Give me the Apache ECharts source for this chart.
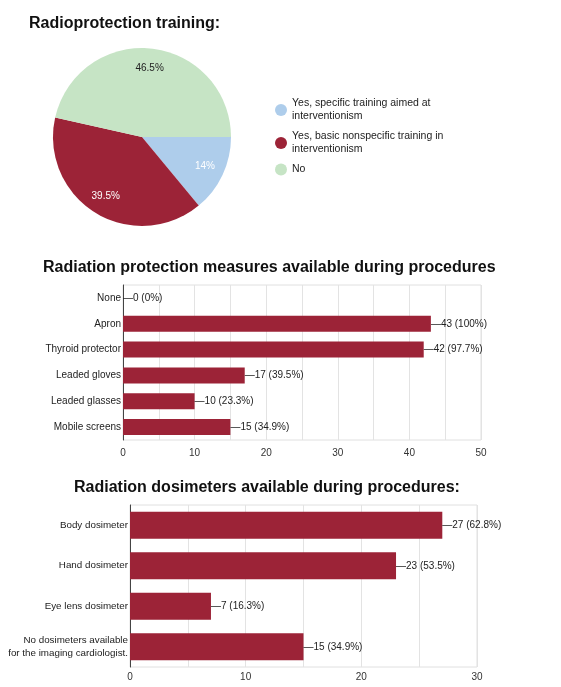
<!DOCTYPE html>
<html><head><meta charset="utf-8">
<script src="https://cdn.jsdelivr.net/npm/echarts@6/dist/echarts.min.js"></script>
<style>html,body{margin:0;padding:0;background:#fff}#c{width:561px;height:687px}</style>
</head><body><div id="c"></div>
<script>
const pieNames = ["Yes, specific training aimed at interventionism", "Yes, basic nonspecific training in interventionism", "No"];
const pieLegendText = ["Yes, specific training aimed at\ninterventionism", "Yes, basic nonspecific training in\ninterventionism", "No"];
const pieValues = [14, 39.5, 46.5];
const pieColors = ["#aecdeb", "#9c2337", "#c6e4c5"];
const pieLabelColors = ["#fff", "#fff", "#222"];

const measCats = ["None", "Apron", "Thyroid protector", "Leaded gloves", "Leaded glasses", "Mobile screens"];
const measVals = [0, 43, 42, 17, 10, 15];
const measPct = ["0%", "100%", "97.7%", "39.5%", "23.3%", "34.9%"];

const dosiCats = ["Body dosimeter", "Hand dosimeter", "Eye lens dosimeter", "No dosimeters available\nfor the imaging cardiologist."];
const dosiVals = [27, 23, 7, 15];
const dosiPct = ["62.8%", "53.5%", "16.3%", "34.9%"];

const FONT = "Liberation Sans, Arial, sans-serif";
const BAR = "#9c2337";

const chart = echarts.init(document.getElementById('c'));
function valAxis(gi, max, margin) {
  return {
    type: 'value', gridIndex: gi, min: 0, max: max, interval: 10,
    axisLine: { show: false }, axisTick: { show: false },
    axisLabel: { color: '#333', fontSize: 10, fontFamily: FONT, margin: margin },
    splitLine: { lineStyle: { color: '#e3e3e3' } },
    minorTick: { show: false, splitNumber: 2 },
    minorSplitLine: { show: true, lineStyle: { color: '#e3e3e3' } }
  };
}
function catAxis(gi, cats, fs) {
  return {
    type: 'category', gridIndex: gi, data: cats, inverse: true,
    axisLine: { lineStyle: { color: '#444', width: 1 } }, axisTick: { show: false },
    axisLabel: { color: '#222', fontSize: fs, fontFamily: FONT, margin: 2, lineHeight: 13 }
  };
}
const titleStyle = { fontFamily: FONT, fontSize: 16, fontWeight: 'bold', color: '#111' };
chart.setOption({
  animation: false,
  title: [
    { text: 'Radioprotection training:', left: 24, top: 11, textStyle: titleStyle },
    { text: 'Radiation protection measures available during procedures', left: 38, top: 255, textStyle: titleStyle },
    { text: 'Radiation dosimeters available during procedures:', left: 69, top: 475, textStyle: titleStyle }
  ],
  legend: {
    orient: 'vertical', left: 270, top: 92, icon: 'circle', itemWidth: 12, itemHeight: 12, itemGap: 7,
    data: pieNames,
    formatter: n => pieLegendText[pieNames.indexOf(n)],
    textStyle: { fontFamily: FONT, fontSize: 10.5, color: '#222', lineHeight: 13 }
  },
  grid: [
    { left: 123, right: 80, top: 285, bottom: 247, show: true, borderColor: '#e0e0e0', borderWidth: 1 },
    { left: 130, right: 84, top: 505, bottom: 20, show: true, borderColor: '#e0e0e0', borderWidth: 1 }
  ],
  xAxis: [valAxis(0, 50, 8), valAxis(1, 30, 5)],
  yAxis: [catAxis(0, measCats, 10), catAxis(1, dosiCats, 9.8)],
  series: [
    {
      type: 'pie', center: [142, 137], radius: 89, startAngle: 0, clockwise: true,
      data: pieNames.map((n, i) => ({ name: n, value: pieValues[i], itemStyle: { color: pieColors[i] } })),
      label: { show: false }, labelLine: { show: false },
      itemStyle: { borderWidth: 0 }
    },
    {
      type: 'pie', center: [142, 137], radius: [44, 89], startAngle: 0, clockwise: true, silent: true,
      data: pieNames.map((n, i) => ({ name: n, value: pieValues[i], itemStyle: { color: 'rgba(0,0,0,0)' },
        label: { color: pieLabelColors[i] } })),
      label: { position: 'inside', fontFamily: FONT, fontSize: 10, formatter: p => p.value + '%' },
      labelLine: { show: false },
      itemStyle: { borderWidth: 0 }
    },
    {
      type: 'bar', xAxisIndex: 0, yAxisIndex: 0, data: measVals, barWidth: 16,
      itemStyle: { color: BAR },
      label: { show: true, position: 'right', distance: 0, fontFamily: FONT, fontSize: 10, color: '#222',
        formatter: p => '\u2014' + p.value + ' (' + measPct[p.dataIndex] + ')' }
    },
    {
      type: 'bar', xAxisIndex: 1, yAxisIndex: 1, data: dosiVals, barWidth: 27,
      itemStyle: { color: BAR },
      label: { show: true, position: 'right', distance: 0, fontFamily: FONT, fontSize: 10, color: '#222',
        formatter: p => '\u2014' + p.value + ' (' + dosiPct[p.dataIndex] + ')' }
    }
  ]
});
</script></body></html>
